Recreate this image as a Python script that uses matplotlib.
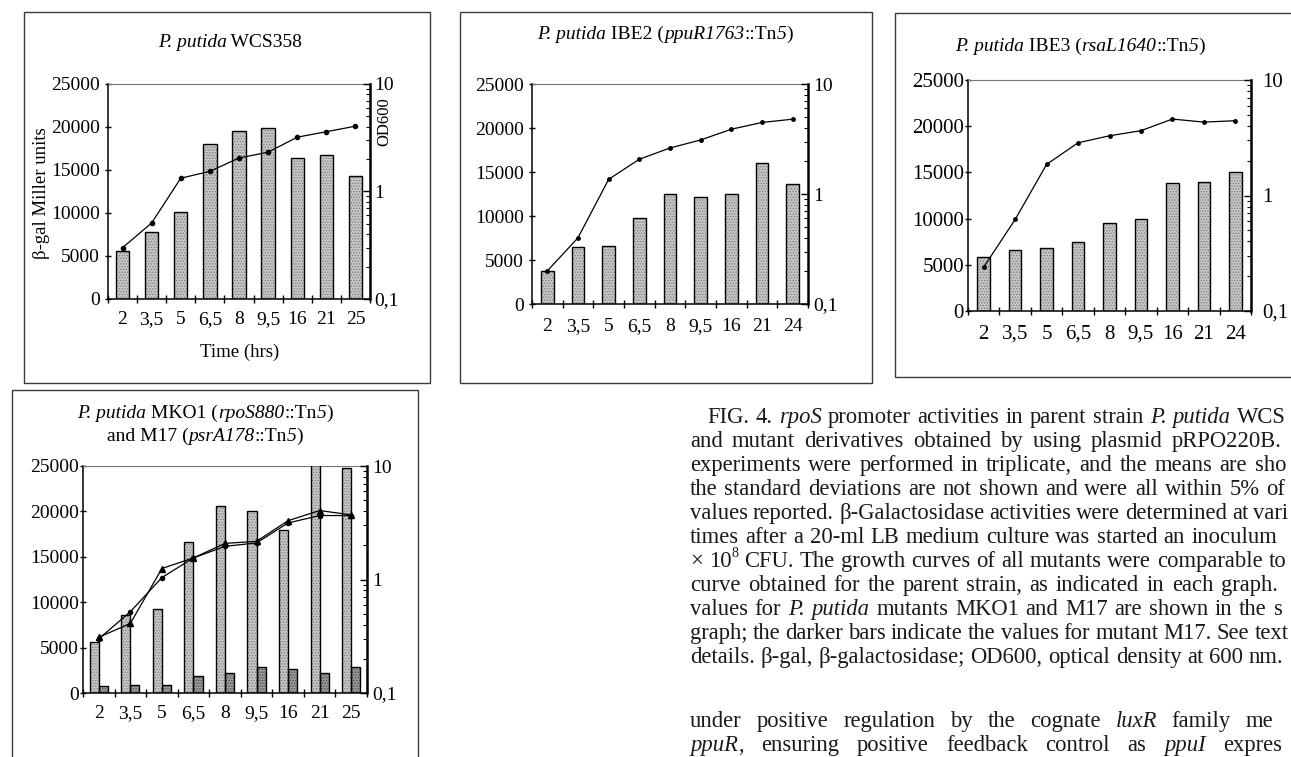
import re
import numpy as np
import matplotlib
matplotlib.use("Agg")
import matplotlib.pyplot as plt
from matplotlib.patches import Rectangle
from matplotlib.ticker import NullFormatter

plt.rcParams["font.family"] = ["Liberation Serif", "DejaVu Serif"]
plt.rcParams["hatch.linewidth"] = 0.6

# ---------------------------------------------------------------- data
times_a = ["2", "3,5", "5", "6,5", "8", "9,5", "16", "21", "25"]
times_b = ["2", "3,5", "5", "6,5", "8", "9,5", "16", "21", "24"]

gal_wcs358 = [5600, 7750, 10150, 18000, 19550, 19900, 16450, 16750, 14350]
od_wcs358 = [0.30, 0.51, 1.33, 1.54, 2.05, 2.32, 3.20, 3.60, 4.05]

gal_ibe2 = [3750, 6450, 6600, 9800, 12500, 12200, 12450, 16050, 13600]
od_ibe2 = [0.20, 0.40, 1.36, 2.07, 2.62, 3.10, 3.88, 4.47, 4.79]

gal_ibe3 = [5800, 6550, 6850, 7500, 9550, 9950, 13900, 14000, 15050]
od_ibe3 = [0.24, 0.62, 1.86, 2.86, 3.29, 3.64, 4.59, 4.32, 4.44]

gal_mko1 = [5600, 8600, 9200, 16600, 20550, 20000, 18000, 25600, 24800]
gal_m17 = [800, 900, 900, 1850, 2150, 2900, 2600, 2150, 2900]
od_mko1 = [0.30, 0.52, 1.04, 1.55, 1.96, 2.10, 3.15, 3.66, 3.66]
od_m17 = [0.31, 0.41, 1.25, 1.55, 2.08, 2.17, 3.30, 4.05, 3.71]

# ---------------------------------------------------------------- figure
W, H = 1291, 757
fig = plt.figure(figsize=(W / 100, H / 100), dpi=100)
fig.patch.set_facecolor("white")
renderer = fig.canvas.get_renderer()
PT = 100 / 72


def fx(px):
    return px / W


def fy(py):
    return 1 - py / H


def frame(x0, y0, x1, y1):
    fig.add_artist(Rectangle((fx(x0), fy(y1)), fx(x1 - x0), (y1 - y0) / H,
                             transform=fig.transFigure, fill=False,
                             edgecolor="#3a3a3a", linewidth=1.0))


def parse(word):
    """Split a word into (text, style, superscript) runs; *x* is italic, ^x raised."""
    runs = []
    for part in re.split(r"(\*[^*]+\*|\^\w+)", word):
        if not part:
            continue
        if part.startswith("*"):
            runs.append((part[1:-1], "italic", False))
        elif part.startswith("^"):
            runs.append((part[1:], "normal", True))
        else:
            runs.append((part, "normal", False))
    return runs


def make_runs(runs, y_base, fs, color):
    arts, widths = [], []
    for text, style, sup in runs:
        size = fs * 0.62 if sup else fs
        yb = y_base - (fs * 0.42 * PT if sup else 0)
        t = fig.text(0, fy(yb), text, fontsize=size, style=style, ha="left",
                     va="baseline", color=color)
        arts.append(t)
        widths.append(t.get_window_extent(renderer).width)
    return arts, widths


def place_runs(arts, widths, x_left):
    x = x_left
    for a, w in zip(arts, widths):
        a.set_x(fx(x))
        x += w
    return x


def rich_center(xc, yc, text, fs):
    runs = parse(text)
    arts, widths = make_runs(runs, yc + 0.33 * fs * PT, fs, "black")
    place_runs(arts, widths, xc - sum(widths) / 2)


LIGHT = ("#c6c6c6", "#7a7a7a")
DARK = ("#989898", "#464646")


def panel(box, cats, bar_sets, od_sets, bar_w, fs, lpad, rpad, xpad):
    x0, y0, x1, y1 = box
    ax = fig.add_axes([fx(x0), fy(y1), fx(x1 - x0), (y1 - y0) / H])
    x = np.arange(len(cats))
    n = len(bar_sets)
    for k, (vals, (face, dots)) in enumerate(bar_sets):
        off = (k - (n - 1) / 2) * bar_w
        ax.bar(x + off, vals, bar_w, color=face, edgecolor=dots,
               hatch="......", linewidth=0, zorder=2)
        ax.bar(x + off, vals, bar_w, fill=False, edgecolor="black",
               linewidth=1.0, zorder=3)
    ax.set_xlim(-0.5, len(cats) - 0.5)
    ax.set_ylim(0, 25000)
    ax.set_yticks(range(0, 25001, 5000))
    ax.set_xticks(x)
    ax.set_xticklabels(cats)
    ax.set_xticks(np.arange(-0.5, len(cats)), minor=True)
    ax.tick_params(axis="x", which="major", length=0, pad=xpad, labelsize=fs)
    ax.tick_params(axis="x", which="minor", length=6, direction="inout", width=1)
    ax.tick_params(axis="y", which="major", length=4, direction="inout",
                   pad=lpad, labelsize=fs, width=1)
    ax.spines["top"].set_color("#777777")
    ax.spines["top"].set_linewidth(0.8)
    ax.spines["right"].set_visible(False)
    ax.spines["left"].set_linewidth(1.1)
    ax.spines["bottom"].set_linewidth(1.1)

    ax2 = ax.twinx()
    ax2.set_yscale("log")
    ax2.set_ylim(0.1, 10)
    ax2.set_yticks([0.1, 1, 10])
    ax2.set_yticklabels(["0,1", "1", "10"])
    ax2.yaxis.set_minor_formatter(NullFormatter())
    ax2.tick_params(axis="y", which="major", direction="in", length=5,
                    pad=rpad, labelsize=fs, width=1)
    ax2.tick_params(axis="y", which="minor", direction="in", length=3, width=0.8)
    for s in ("left", "top", "bottom"):
        ax2.spines[s].set_visible(False)
    ax2.spines["right"].set_linewidth(1.8)
    for vals, marker, ms in od_sets:
        ax2.plot(x, vals, color="black", lw=0.9, marker=marker, ms=ms,
                 zorder=5, clip_on=False)
    return ax, ax2


# panel frames
frame(24, 12, 430, 383)
frame(460, 12, 872, 383)
frame(895, 13, 1340, 377)
frame(12, 390, 418, 800)

# WCS358
panel((108, 84, 370, 299), times_a, [(gal_wcs358, LIGHT)],
      [(od_wcs358, "o", 3)], 0.46, 14, 4, 3, 9)
rich_center(230, 41, "*P. putida* WCS358", 14)
fig.text(fx(42), fy(193), "β-gal Miller units", rotation=90, ha="center",
         va="center", fontsize=13.5)
fig.text(fx(384), fy(122), "OD600", rotation=90, ha="center", va="center",
         fontsize=12)
fig.text(fx(240), fy(352), "Time (hrs)", ha="center", va="center", fontsize=13.5)

# IBE2
panel((532, 84, 808, 304), times_b, [(gal_ibe2, LIGHT)],
      [(od_ibe2, "o", 2.5)], 0.42, 14, 4, 4, 10)
rich_center(665, 33, "*P. putida* IBE2 (*ppuR1763*::Tn*5*)", 14)

# IBE3
panel((968, 80, 1251, 311), times_b, [(gal_ibe3, LIGHT)],
      [(od_ibe3, "o", 2.5)], 0.40, 15, 1, 8, 10)
rich_center(1080, 45, "*P. putida* IBE3 (*rsaL1640*::Tn*5*)", 14)

# MKO1 and M17
panel((83, 466, 367, 693), times_a, [(gal_mko1, LIGHT), (gal_m17, DARK)],
      [(od_mko1, "o", 3), (od_m17, "^", 5)], 0.29, 14, 1, 4, 9)
rich_center(205, 412, "*P. putida* MKO1 (*rpoS880*::Tn*5*)", 14)
rich_center(205, 435, "and M17 (*psrA178*::Tn*5*)", 14)

# ---------------------------------------------------------------- caption
caption = [
    ("FIG. 4. *rpoS* promoter activities in parent strain *P.* *putida* WCS358", 707, True),
    ("and mutant derivatives obtained by using plasmid pRPO220B. All", 690, True),
    ("experiments were performed in triplicate, and the means are shown;", 690, True),
    ("the standard deviations are not shown and were all within 5% of the", 690, True),
    ("values reported. β-Galactosidase activities were determined at various", 690, True),
    ("times after a 20-ml LB medium culture was started an inoculum of 1", 690, True),
    ("× 10^8 CFU. The growth curves of all mutants were comparable to the", 690, True),
    ("curve obtained for the parent strain, as indicated in each graph. The", 690, True),
    ("values for *P.* *putida* mutants MKO1 and M17 are shown in the same", 690, True),
    ("graph; the darker bars indicate the values for mutant M17. See text for", 690, True),
    ("details. β-gal, β-galactosidase; OD600, optical density at 600 nm.", 690, False),
]
body = [
    ("under positive regulation by the cognate *luxR* family member", 690, True),
    ("*ppuR*, ensuring positive feedback control as *ppuI* expression", 690, True),
]

COL_RIGHT = 1320
TXT_FS = 16.3
TXT_COLOR = "#1a1a1a"


def set_line(text, y_center, x_left, justify):
    words = []
    for w in text.split(" "):
        arts, widths = make_runs(parse(w), y_center + 5, TXT_FS, TXT_COLOR)
        words.append((arts, widths))
    total = sum(sum(ws) for _, ws in words)
    if justify and len(words) > 1:
        gap = (COL_RIGHT - x_left - total) / (len(words) - 1)
    else:
        gap = 0.25 * TXT_FS * PT
    x = x_left
    for arts, widths in words:
        right = place_runs(arts, widths, x)
        if right > W:
            # the page edge trims the column: keep only the letters that fit
            if x > W - 6:
                for a in arts:
                    a.remove()
            else:
                a = arts[-1]
                s = a.get_text()
                while s and a.get_window_extent(renderer).x1 > W - 1:
                    s = s[:-1]
                    a.set_text(s)
        x = right + gap


for i, (line, xl, just) in enumerate(caption):
    set_line(line, 418 + 24 * i, xl, just)
for i, (line, xl, just) in enumerate(body):
    set_line(line, 722 + 24 * i, xl, just)

fig.savefig("out.png", dpi=100)
